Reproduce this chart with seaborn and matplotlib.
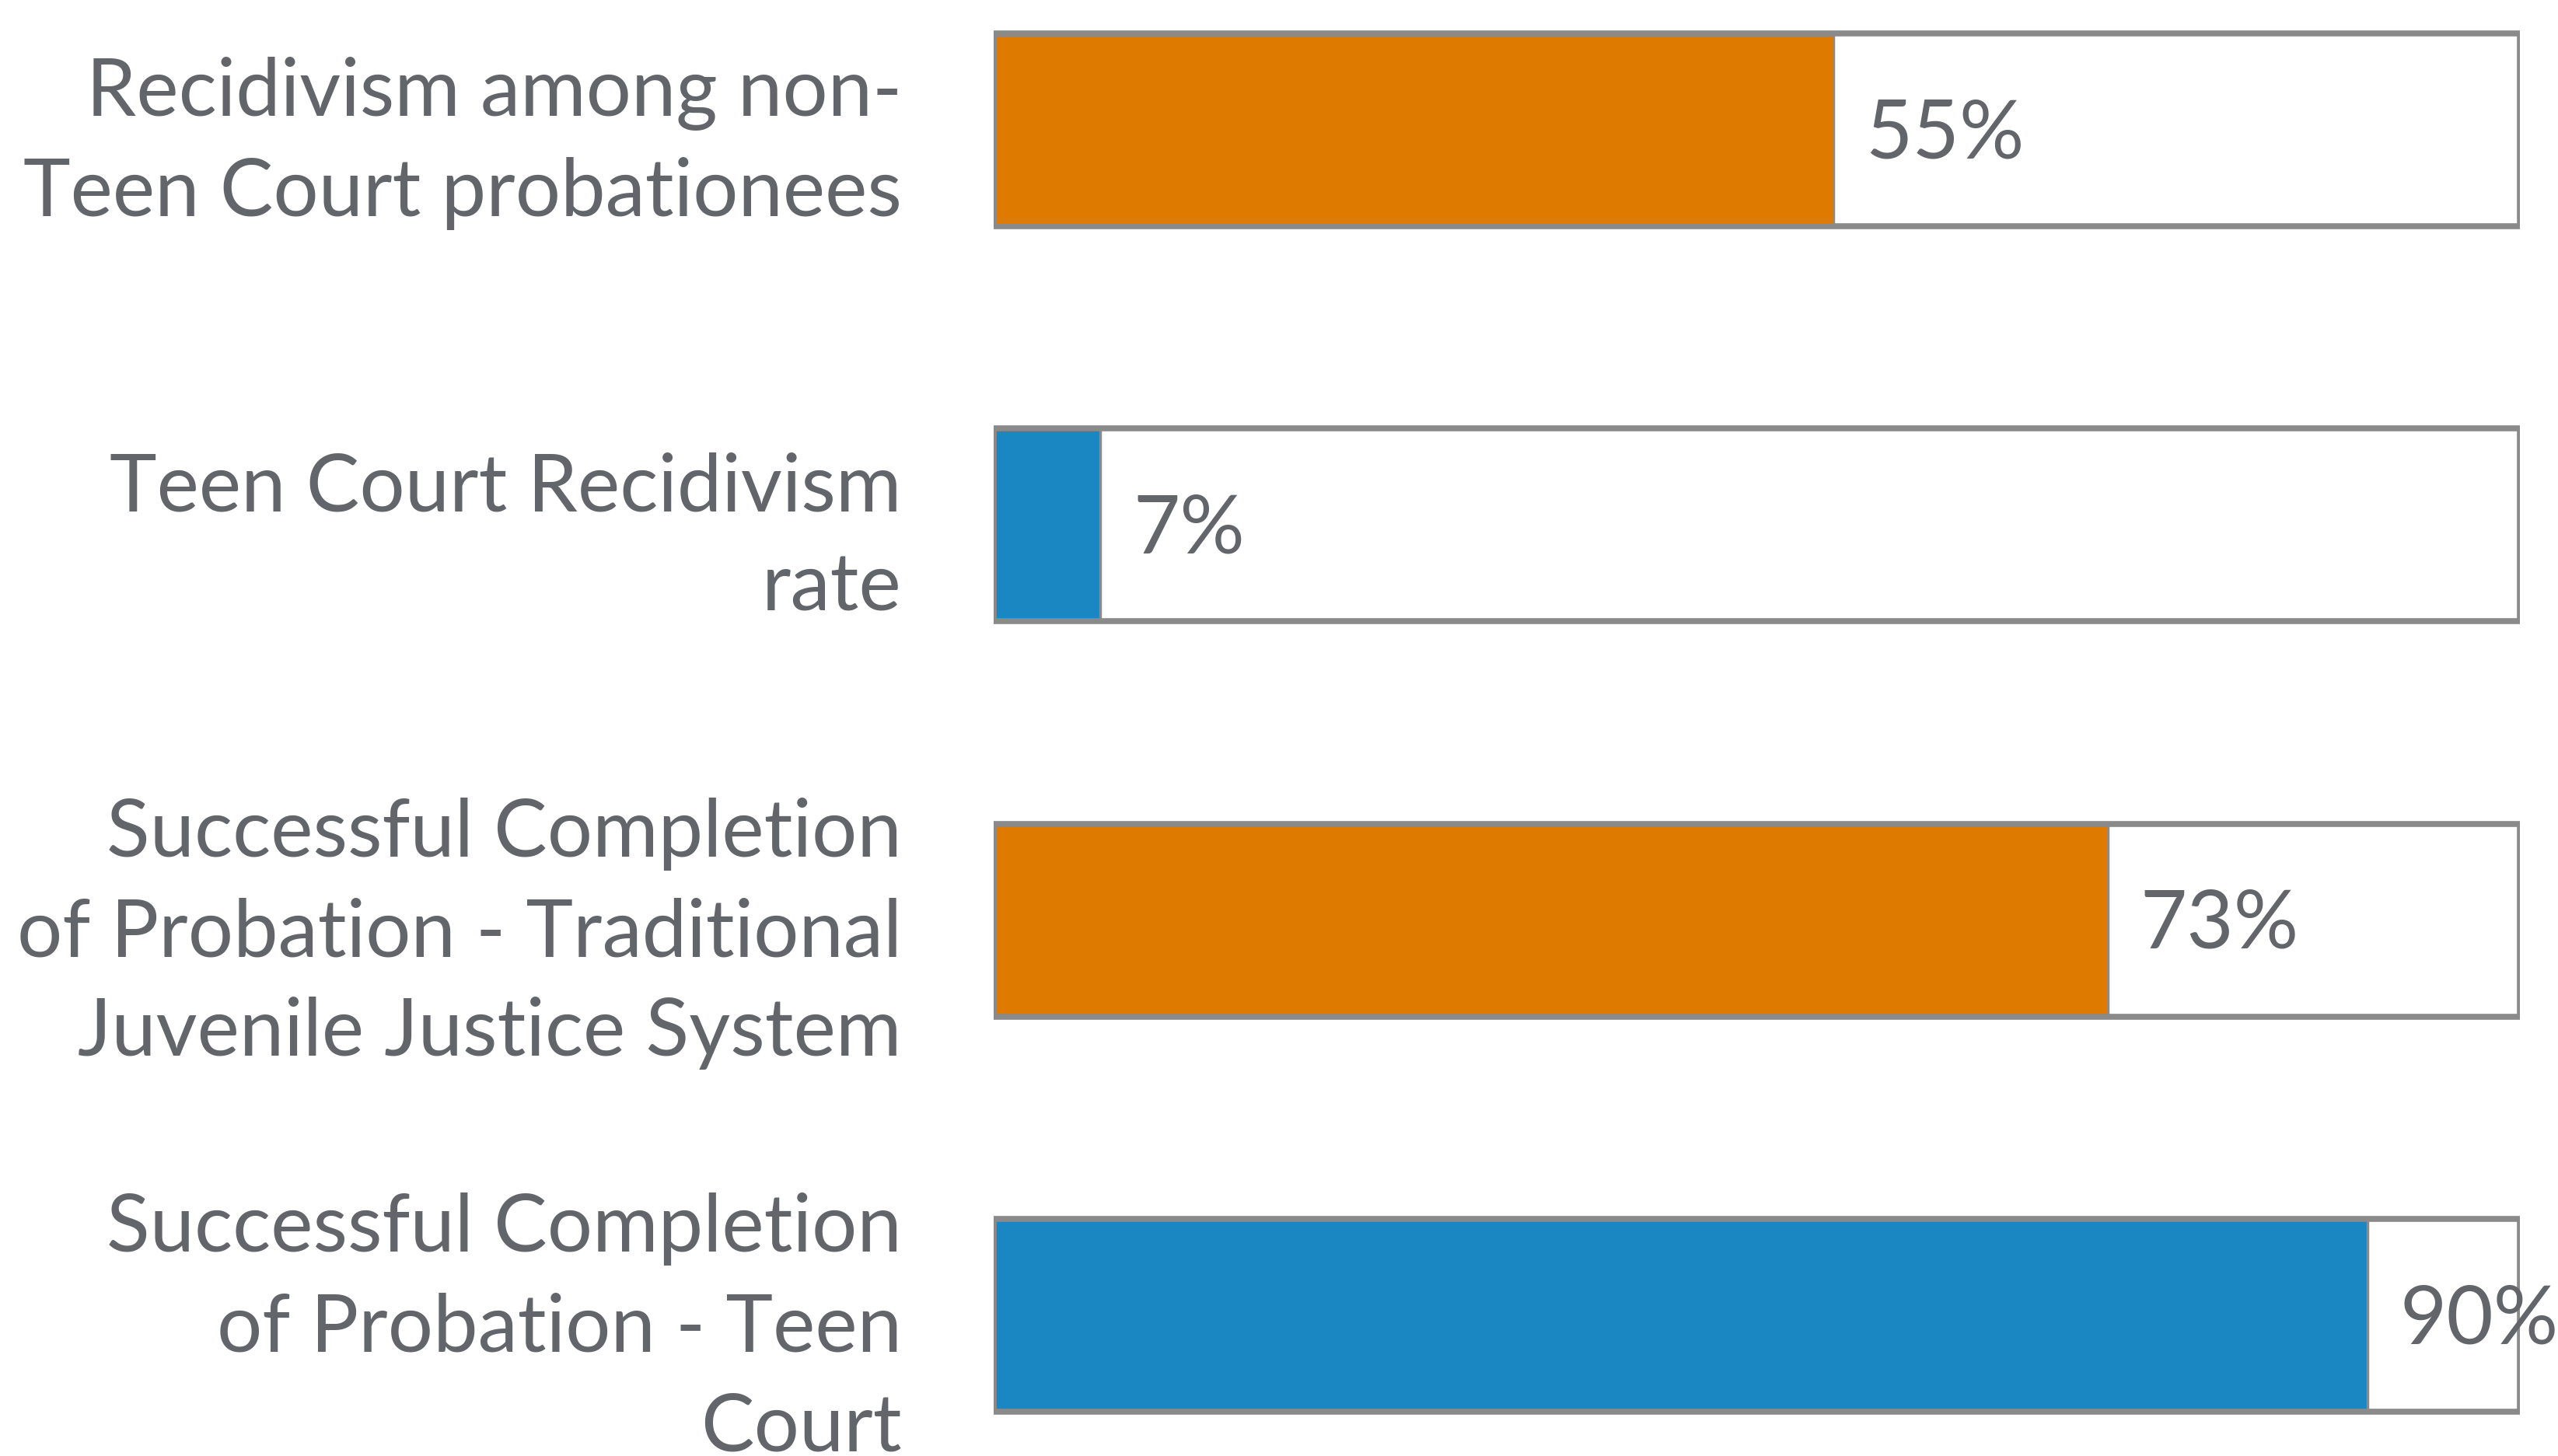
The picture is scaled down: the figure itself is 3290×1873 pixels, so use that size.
import matplotlib.pyplot as plt
import matplotlib.transforms as mtransforms
import pandas as pd
import seaborn as sns

categories = [
    "Recidivism among non-\nTeen Court probationees",
    "Teen Court Recidivism\nrate",
    "Successful Completion\nof Probation - Traditional\nJuvenile Justice System",
    "Successful Completion\nof Probation - Teen\nCourt",
]
values = [55, 7, 73, 90]
track_max = [100, 100, 100, 100]
bar_colors = ["#DF7A00", "#1B87C2", "#DF7A00", "#1B87C2"]

TEXT = "#62666b"
EDGE = "#8a8a8a"

sns.set_theme(style="white")
plt.rcParams["font.family"] = ["Lato", "DejaVu Sans"]

df = pd.DataFrame({"category": categories, "value": values, "track": track_max})

fig = plt.figure(figsize=(32.9, 18.74), dpi=100)
ax = fig.add_axes([0.3884, 0.0, 0.5967, 1.0])

bar_w = 0.488
# white track behind each bar
sns.barplot(data=df, x="track", y="category", color="white", width=bar_w,
            saturation=1, ax=ax, zorder=1, linewidth=0)
sns.barplot(data=df, x="value", y="category", hue="category",
            palette=bar_colors, width=bar_w, saturation=1, legend=False,
            ax=ax, zorder=2, edgecolor=EDGE, linewidth=2.5)
# outline of the track on top
sns.barplot(data=df, x="track", y="category", fill=False, width=bar_w,
            ax=ax, zorder=3, edgecolor=EDGE, linewidth=5.5)

for i, v in enumerate(values):
    ax.annotate(f"{v}%", xy=(v, i), xytext=(30, -4), textcoords="offset points",
                ha="left", va="center", fontsize=75, color=TEXT,
                annotation_clip=False, zorder=4)

ax.set_xlim(0, 100)
ax.set_ylim(3.356, -0.3305)
ax.set_xlabel("")
ax.set_ylabel("")
ax.set_xticks([])
ax.tick_params(axis="y", length=0, pad=85, labelsize=74, labelcolor=TEXT)
# labels sit a touch above the bar centre in the original
shift = mtransforms.ScaledTranslation(0, 7 / 72, fig.dpi_scale_trans)
for lbl in ax.get_yticklabels():
    lbl.set_multialignment("right")
    lbl.set_linespacing(1.45)
    lbl.set_transform(lbl.get_transform() + shift)
for s in ax.spines.values():
    s.set_visible(False)

fig.savefig("out.png", dpi=100, facecolor="white")
